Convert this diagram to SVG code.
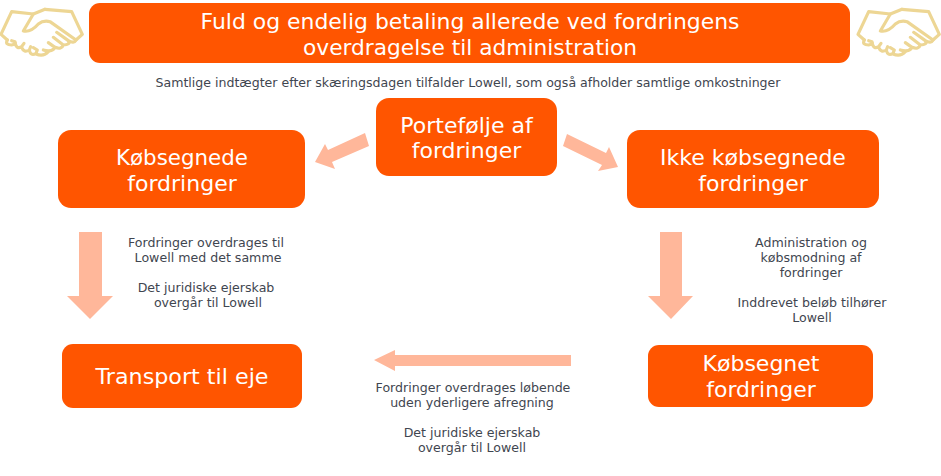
<svg xmlns="http://www.w3.org/2000/svg" width="941" height="476" viewBox="0 0 941 476">
<style>
text{font-family:"DejaVu Sans","Liberation Sans",sans-serif;text-anchor:middle}
.b{fill:#FF5500}
.t{fill:#fff;font-size:22px}
.s{fill:#3F4650;font-size:12.600px}
.a{fill:#FFB79A}
.h{fill:none;stroke:#EDD694;stroke-width:9.500;stroke-linejoin:round;stroke-linecap:round}
</style>
<defs>
<g id="hs" class="h" transform="scale(.3333)">
<path d="M100 42L35 35L3 103L22 120"/>
<path d="M135 28L215 35L247 103L228 120"/>
<path d="M135 28L100 42L70 93Q92 98 115 72Q130 60 150 65L228 120Q222 132 205 122M205 122L170 97M205 122Q212 135 190 135L160 112M190 135Q185 150 165 142L145 128M165 142Q155 158 130 150"/>
<path d="M22 120Q14 135 35 135Q50 132 45 125L35 122M45 128Q50 150 65 140L72 130M65 142Q72 160 88 150L92 140M88 150Q92 170 108 160L112 150L100 143M108 162Q130 172 145 155"/>
</g>
</defs>
<g id="connectors">
<polygon class="a" points="365,133 369,146 332,162 335,169 315,162 325,144 328,150"/>
<polygon class="a" points="567,134 606,153 609,147 618,167 598,171 602,165 563,146"/>
<polygon class="a" points="79,232 102,232 102,296 113,296 90,319 67,296 79,296"/>
<polygon class="a" points="660,232 682,232 682,296 693,296 671,319 648,296 660,296"/>
<polygon class="a" points="571,355 571,366 395,366 395,371 374,360 395,350 395,355"/>
</g>
<g id="icon-left"><use href="#hs"/></g>
<g id="icon-right"><use href="#hs" transform="translate(857 0)"/></g>
<g id="title">
<rect class="b" x="89" y="3" width="761" height="60" rx="11"/>
<text class="t" x="470" y="29" textLength="539" lengthAdjust="spacingAndGlyphs">Fuld og endelig betaling allerede ved fordringens</text>
<text class="t" x="470" y="55" textLength="334" lengthAdjust="spacingAndGlyphs">overdragelse til administration</text>
</g>
<g id="subtitle"><text class="s" x="468" y="87" textLength="625" lengthAdjust="spacingAndGlyphs">Samtlige indtægter efter skæringsdagen tilfalder Lowell, som også afholder samtlige omkostninger</text></g>
<g id="portfolio">
<rect class="b" x="376" y="98" width="181" height="78" rx="13"/>
<text class="t" x="466.500" y="133">Portefølje af</text>
<text class="t" x="466.500" y="158">fordringer</text>
</g>
<g id="koebsegnede">
<rect class="b" x="58" y="130" width="247" height="78" rx="13"/>
<text class="t" x="182" y="165" textLength="132" lengthAdjust="spacingAndGlyphs">Købsegnede</text>
<text class="t" x="182" y="191">fordringer</text>
</g>
<g id="ikke-koebsegnede">
<rect class="b" x="627" y="130" width="252" height="78" rx="13"/>
<text class="t" x="753" y="165">Ikke købsegnede</text>
<text class="t" x="753" y="191">fordringer</text>
</g>
<g id="transport">
<rect class="b" x="62" y="344" width="240" height="64" rx="11"/>
<text class="t" x="182" y="384" textLength="173" lengthAdjust="spacingAndGlyphs">Transport til eje</text>
</g>
<g id="koebsegnet">
<rect class="b" x="648" y="345" width="225" height="62" rx="11"/>
<text class="t" x="761" y="371">Købsegnet</text>
<text class="t" x="761" y="397">fordringer</text>
</g>
<g id="note-left">
<text class="s" x="206" y="247">Fordringer overdrages til</text>
<text class="s" x="208" y="262">Lowell med det samme</text>
<text class="s" x="206" y="292">Det juridiske ejerskab</text>
<text class="s" x="208" y="307">overgår til Lowell</text>
</g>
<g id="note-right">
<text class="s" x="811" y="247">Administration og</text>
<text class="s" x="811" y="262">købsmodning af</text>
<text class="s" x="811" y="277">fordringer</text>
<text class="s" x="812" y="307">Inddrevet beløb tilhører</text>
<text class="s" x="812" y="322">Lowell</text>
</g>
<g id="note-bottom">
<text class="s" x="473" y="392">Fordringer overdrages løbende</text>
<text class="s" x="472" y="407">uden yderligere afregning</text>
<text class="s" x="472" y="437">Det juridiske ejerskab</text>
<text class="s" x="472" y="452">overgår til Lowell</text>
</g>
</svg>
